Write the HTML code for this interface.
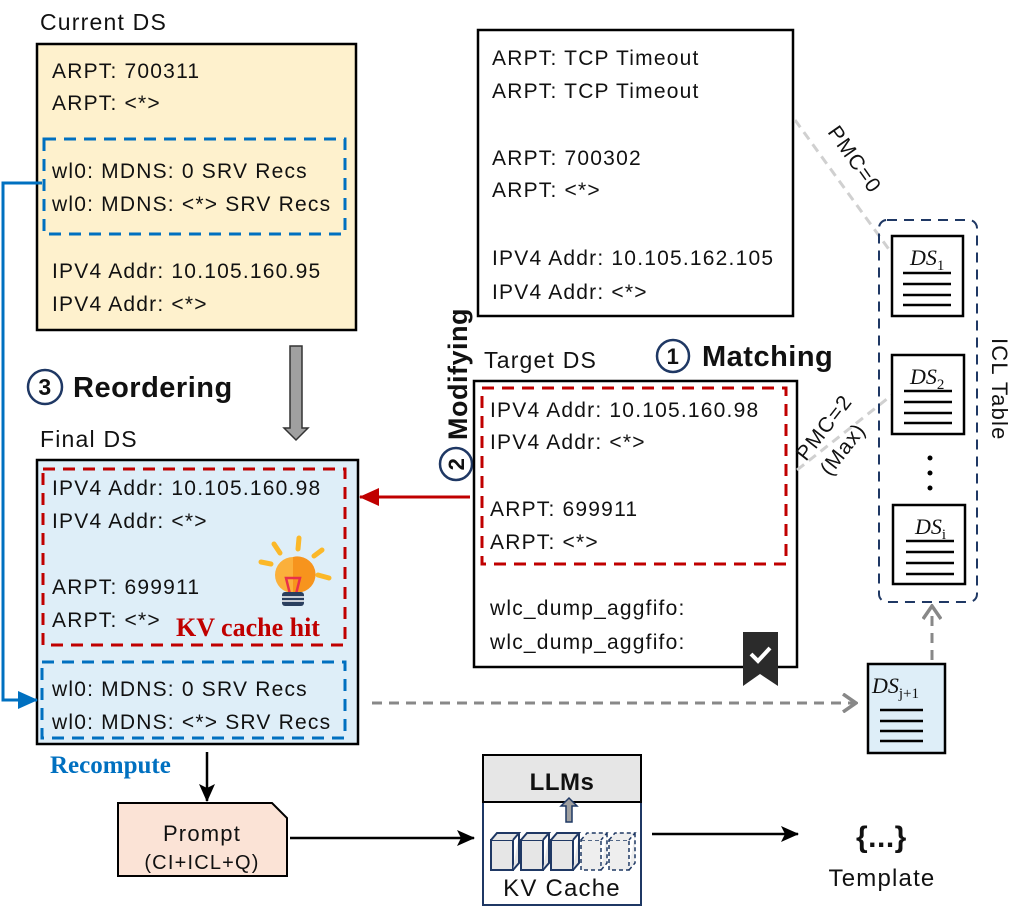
<!DOCTYPE html><html><head><meta charset="utf-8"><style>
body{margin:0;background:#fff}
svg{display:block}
text{font-family:"Liberation Sans",sans-serif;font-size:21px;fill:#111;letter-spacing:1.2px}
.b{font-weight:bold;letter-spacing:0.5px}
.s{font-family:"Liberation Serif",serif;font-weight:bold;letter-spacing:0}
.it{font-family:"Liberation Serif",serif;font-style:italic;font-size:22px;letter-spacing:0}
</style></head><body>
<svg width="1026" height="922" viewBox="0 0 1026 922" xmlns="http://www.w3.org/2000/svg">
<defs>
<marker id="ak" markerWidth="18" markerHeight="16" refX="17" refY="8" orient="auto" markerUnits="userSpaceOnUse"><path d="M0,0 L18,8 L0,16 L4,8z" fill="#000"/></marker>
<marker id="ar" markerWidth="20" markerHeight="18" refX="19" refY="9" orient="auto" markerUnits="userSpaceOnUse"><path d="M0,0 L20,9 L0,18z" fill="#c00000"/></marker>
<marker id="ab" markerWidth="20" markerHeight="18" refX="19" refY="9" orient="auto" markerUnits="userSpaceOnUse"><path d="M0,0 L20,9 L0,18z" fill="#0070c0"/></marker>
<marker id="ag" markerWidth="16" markerHeight="20" refX="14" refY="10" orient="auto" markerUnits="userSpaceOnUse"><path d="M1,1 L14,10 L1,19" fill="none" stroke="#888" stroke-width="3.5"/></marker>
</defs>
<!-- Current DS -->
<text x="40" y="30" style="font-size:23px">Current DS</text>
<rect x="37" y="44" width="319" height="286" fill="#fef1cd" stroke="#000" stroke-width="2.5"/>
<text x="52" y="78">ARPT: 700311</text>
<text x="52" y="110">ARPT: &lt;*&gt;</text>
<rect x="44" y="139" width="301" height="95" fill="none" stroke="#0070c0" stroke-width="3" stroke-dasharray="12,8"/>
<text x="52" y="178">wl0: MDNS: 0 SRV Recs</text>
<text x="52" y="211">wl0: MDNS: &lt;*&gt; SRV Recs</text>
<text x="52" y="278">IPV4 Addr: 10.105.160.95</text>
<text x="52" y="311">IPV4 Addr: &lt;*&gt;</text>
<!-- grey down arrow -->
<path d="M290,346 H302 V428 H308 L296,440 L284,428 H290Z" fill="#a0a0a0" stroke="#333" stroke-width="1.5"/>
<!-- reordering -->
<circle cx="45" cy="387" r="17" fill="none" stroke="#1f3864" stroke-width="2.5"/>
<text x="45" y="395" text-anchor="middle" class="b" style="font-size:23px">3</text>
<text x="73" y="397" class="b" style="font-size:29px">Reordering</text>
<!-- Final DS -->
<text x="40" y="447" style="font-size:23px">Final DS</text>
<rect x="37" y="460" width="321" height="284" fill="#deeef8" stroke="#000" stroke-width="2.5"/>
<rect x="43" y="469" width="302" height="176" fill="none" stroke="#c00000" stroke-width="3" stroke-dasharray="12,8"/>
<text x="52" y="495">IPV4 Addr: 10.105.160.98</text>
<text x="52" y="528">IPV4 Addr: &lt;*&gt;</text>
<text x="52" y="594">ARPT: 699911</text>
<text x="52" y="627">ARPT: &lt;*&gt;</text>
<text x="176" y="636" class="s" style="font-size:26px;fill:#c00000">KV cache hit</text>
<!-- bulb -->
<g stroke="#fbb829" stroke-width="5" stroke-linecap="round">
<line x1="274" y1="544" x2="280" y2="553"/><line x1="299" y1="538" x2="298" y2="549"/><line x1="322" y1="550" x2="314" y2="556"/><line x1="261" y1="562" x2="271" y2="564"/><line x1="318" y1="575" x2="329" y2="578"/></g>
<circle cx="293" cy="575" r="18" fill="#fbb03b"/>
<path d="M293,557 A18,18 0 0 1 302,592 L293,592z" fill="#f7941d"/>
<path d="M286,578 L300,578 L296,594 L290,594z" fill="none" stroke="#e8304a" stroke-width="2.5"/>
<rect x="282" y="592" width="22" height="14" rx="3" fill="#2a3f5f"/>
<line x1="282" y1="597" x2="304" y2="597" stroke="#fff" stroke-width="1.5"/><line x1="282" y1="601" x2="304" y2="601" stroke="#fff" stroke-width="1.5"/>
<rect x="42" y="662" width="303" height="76" fill="none" stroke="#0070c0" stroke-width="3" stroke-dasharray="12,8"/>
<text x="52" y="696">wl0: MDNS: 0 SRV Recs</text>
<text x="52" y="729">wl0: MDNS: &lt;*&gt; SRV Recs</text>
<text x="50" y="773" class="s" style="font-size:25px;fill:#0070c0">Recompute</text>
<!-- blue connector -->
<polyline points="42,183 3,183 3,700 37,700" fill="none" stroke="#0070c0" stroke-width="3" marker-end="url(#ab)"/>
<!-- top right box -->
<rect x="478" y="30" width="315" height="286" fill="#fff" stroke="#000" stroke-width="2.5"/>
<text x="492" y="65">ARPT: TCP Timeout</text>
<text x="492" y="98">ARPT: TCP Timeout</text>
<text x="492" y="165">ARPT: 700302</text>
<text x="492" y="197">ARPT: &lt;*&gt;</text>
<text x="492" y="265">IPV4 Addr: 10.105.162.105</text>
<text x="492" y="299">IPV4 Addr: &lt;*&gt;</text>
<!-- modifying -->
<g transform="translate(467,478) rotate(-90)">
<circle cx="14" cy="-11" r="16" fill="none" stroke="#1f3864" stroke-width="2.5"/>
<text x="14" y="-3" text-anchor="middle" class="b" style="font-size:22px">2</text>
<text x="38" y="0" class="b" style="font-size:27px">Modifying</text></g>
<!-- target -->
<text x="484" y="368" style="font-size:23px">Target DS</text>
<circle cx="673" cy="356" r="16" fill="none" stroke="#1f3864" stroke-width="2.5"/>
<text x="673" y="364" text-anchor="middle" class="b" style="font-size:22px">1</text>
<text x="702" y="366" class="b" style="font-size:29px">Matching</text>
<rect x="474" y="381" width="323" height="286" fill="#fff" stroke="#000" stroke-width="2.5"/>
<rect x="482" y="388" width="304" height="176" fill="none" stroke="#c00000" stroke-width="3" stroke-dasharray="12,8"/>
<text x="490" y="417">IPV4 Addr: 10.105.160.98</text>
<text x="490" y="449">IPV4 Addr: &lt;*&gt;</text>
<text x="490" y="516">ARPT: 699911</text>
<text x="490" y="549">ARPT: &lt;*&gt;</text>
<text x="490" y="615">wlc_dump_aggfifo:</text>
<text x="490" y="649">wlc_dump_aggfifo:</text>
<path d="M743,632 H778 V686 L760,674 L743,686Z" fill="#2b2b2b"/>
<path d="M751,654 L758,661 L770,648" fill="none" stroke="#fff" stroke-width="4"/>
<line x1="470" y1="497" x2="360" y2="497" stroke="#c00000" stroke-width="3" marker-end="url(#ar)"/>
<!-- PMC lines -->
<line x1="795" y1="120" x2="893" y2="255" stroke="#d0d0d0" stroke-width="3" stroke-dasharray="9,6"/>
<text transform="translate(827,132) rotate(55)" style="font-size:21px">PMC=0</text>
<line x1="797" y1="470" x2="892" y2="395" stroke="#d0d0d0" stroke-width="3" stroke-dasharray="9,6"/>
<text transform="translate(806,462) rotate(-52)" style="font-size:21px">PMC=2</text>
<text transform="translate(830,477) rotate(-52)" style="font-size:21px">(Max)</text>
<!-- ICL table -->
<rect x="879" y="220" width="98" height="382" rx="8" fill="none" stroke="#1f3864" stroke-width="2" stroke-dasharray="10,7"/>
<text transform="translate(992,338) rotate(90)" style="font-size:22px">ICL Table</text>
<g fill="#fff" stroke="#000" stroke-width="2.5">
<rect x="892" y="236" width="71" height="80"/><rect x="892" y="355" width="72" height="79"/><rect x="893" y="505" width="72" height="79"/></g>
<g stroke="#000" stroke-width="2.5">
<line x1="903" y1="273" x2="951" y2="273"/><line x1="903" y1="284" x2="951" y2="284"/><line x1="903" y1="295" x2="951" y2="295"/><line x1="903" y1="305" x2="951" y2="305"/>
<line x1="904" y1="391" x2="952" y2="391"/><line x1="904" y1="402" x2="952" y2="402"/><line x1="904" y1="413" x2="952" y2="413"/><line x1="904" y1="423" x2="952" y2="423"/>
<line x1="906" y1="541" x2="954" y2="541"/><line x1="906" y1="552" x2="954" y2="552"/><line x1="906" y1="563" x2="954" y2="563"/><line x1="906" y1="574" x2="954" y2="574"/></g>
<text x="910" y="265" class="it">DS<tspan font-size="15" dy="5" font-style="normal">1</tspan></text>
<text x="910" y="384" class="it">DS<tspan font-size="15" dy="5" font-style="normal">2</tspan></text>
<text x="915" y="534" class="it">DS<tspan font-size="15" dy="5" font-style="normal">i</tspan></text>
<circle cx="930" cy="458" r="2.5" fill="#000"/><circle cx="930" cy="473" r="2.5" fill="#000"/><circle cx="930" cy="488" r="2.5" fill="#000"/>
<!-- DS j+1 -->
<rect x="868" y="664" width="77" height="89" fill="#deeef8" stroke="#000" stroke-width="2.5"/>
<text x="872" y="693" class="it">DS<tspan font-size="15" dy="5" font-style="normal">j+1</tspan></text>
<g stroke="#000" stroke-width="2.5"><line x1="880" y1="710" x2="923" y2="710"/><line x1="880" y1="721" x2="923" y2="721"/><line x1="880" y1="731" x2="923" y2="731"/><line x1="880" y1="741" x2="923" y2="741"/></g>
<line x1="372" y1="703" x2="856" y2="703" stroke="#888" stroke-width="3" stroke-dasharray="10,7" marker-end="url(#ag)"/>
<line x1="932" y1="660" x2="932" y2="606" stroke="#888" stroke-width="3" stroke-dasharray="10,7" marker-end="url(#ag)"/>
<!-- prompt -->
<line x1="207" y1="752" x2="207" y2="801" stroke="#000" stroke-width="2.5" marker-end="url(#ak)"/>
<path d="M118,803 H272 L287,818 V876 H118Z" fill="#fbe3d6" stroke="#000" stroke-width="2"/>
<text x="202" y="841" text-anchor="middle" style="font-size:22px">Prompt</text>
<text x="202" y="869" text-anchor="middle" style="font-size:20px">(CI+ICL+Q)</text>
<line x1="290" y1="838" x2="474" y2="838" stroke="#000" stroke-width="2.5" marker-end="url(#ak)"/>
<!-- LLMs -->
<rect x="483" y="755" width="158" height="150" fill="#fff" stroke="#1f3864" stroke-width="2"/>
<rect x="483" y="755" width="158" height="47" fill="#e6e6e6" stroke="#000" stroke-width="2"/>
<text x="562" y="790" text-anchor="middle" class="b" style="font-size:24px">LLMs</text>
<path d="M566,822 V806 H561 L569,798 L577,806 H572 V822Z" fill="#a0a0a0" stroke="#1f3864" stroke-width="1.5"/>
<g fill="#e6e6e6" stroke="#1f3864" stroke-width="2">
<rect x="491" y="840" width="22" height="30"/><path d="M491,840 L497,833 H519 L513,840 M513,870 L519,863 V833"/>
<rect x="521" y="840" width="22" height="30"/><path d="M521,840 L527,833 H549 L543,840 M543,870 L549,863 V833"/>
<rect x="551" y="840" width="22" height="30"/><path d="M551,840 L557,833 H579 L573,840 M573,870 L579,863 V833"/>
</g>
<g fill="#eee" stroke="#1f3864" stroke-width="1.5" stroke-dasharray="4,3">
<rect x="581" y="840" width="20" height="30"/><path d="M581,840 L587,833 H607 L601,840 M601,870 L607,863 V833"/>
<rect x="609" y="840" width="20" height="30"/><path d="M609,840 L615,833 H635 L629,840 M629,870 L635,863 V833"/>
</g>
<text x="562" y="896" text-anchor="middle" style="font-size:24px">KV Cache</text>
<line x1="652" y1="834" x2="798" y2="834" stroke="#000" stroke-width="2.5" marker-end="url(#ak)"/>
<text x="856" y="847" class="b" style="font-size:30px">{...}</text>
<text x="882" y="886" text-anchor="middle" style="font-size:24px">Template</text>
</svg>
</body></html>
